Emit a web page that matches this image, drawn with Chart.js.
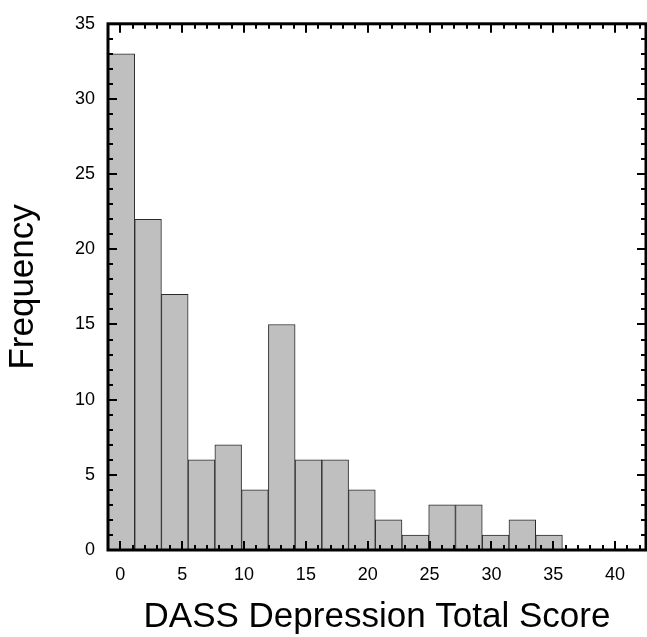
<!DOCTYPE html>
<html>
<head>
<meta charset="utf-8">
<script src="https://cdn.jsdelivr.net/npm/chart.js@4/dist/chart.umd.min.js"></script>
<style>
  html, body { margin: 0; padding: 0; background: #fff; }
  #wrap { width: 647px; height: 637px; }
</style>
</head>
<body>
<div id="wrap"><canvas id="hist"></canvas></div>
<script>
// histogram bins (centres, width ~2.16) and counts
const binCentres = [0.08, 2.24, 4.40, 6.56, 8.72, 10.88, 13.05, 15.21, 17.37,
                    19.53, 21.69, 23.85, 26.01, 28.18, 30.34, 32.50, 34.66];
const counts = [33, 22, 17, 6, 7, 4, 15, 6, 6, 4, 2, 1, 3, 3, 1, 2, 1];
const xTicks = [0, 5, 10, 15, 20, 25, 30, 35, 40];
const yTicks = [0, 5, 10, 15, 20, 25, 30, 35];

const FONT = "'Liberation Sans', Arial, sans-serif";

// inward ticks on all four sides + frame
const framePlugin = {
  id: "frame",
  afterDatasetsDraw(chart) {
    const { ctx, chartArea: a, scales } = chart;
    const x = scales.x, y = scales.y;
    ctx.save();
    ctx.strokeStyle = "#000";
    ctx.lineWidth = 2;
    for (let v = -1; v <= 42; v++) {
      const px = Math.round(x.getPixelForValue(v));
      const len = v % 5 === 0 ? 9 : 5;
      ctx.beginPath();
      ctx.moveTo(px, a.bottom); ctx.lineTo(px, a.bottom - len);
      ctx.moveTo(px, a.top); ctx.lineTo(px, a.top + len);
      ctx.stroke();
    }
    for (let v = 0; v <= 35; v++) {
      const py = Math.round(y.getPixelForValue(v));
      const len = v % 5 === 0 ? 9 : 5;
      ctx.beginPath();
      ctx.moveTo(a.left, py); ctx.lineTo(a.left + len, py);
      ctx.moveTo(a.right, py); ctx.lineTo(a.right - len, py);
      ctx.stroke();
    }
    ctx.lineWidth = 3;
    ctx.strokeRect(a.left, a.top, a.right - a.left, a.bottom - a.top);
    ctx.restore();
  }
};

const histConfig = {
  type: "bar",
  data: {
    datasets: [
      {
        label: "Frequency",
        data: binCentres.map((c, i) => ({ x: c, y: counts[i] })),
        backgroundColor: "#bfbfbf",
        borderColor: "#2a2a2a",
        borderWidth: 1,
        barPercentage: 1,
        categoryPercentage: 1,
      },
    ],
  },
  options: {
    responsive: true,
    maintainAspectRatio: false,
    animation: false,
    layout: { padding: { top: 17, right: 1, left: 0, bottom: 0 } },
    plugins: { legend: { display: false }, tooltip: { enabled: false } },
    scales: {
      x: {
        type: "linear",
        offset: false,
        min: -1,
        max: 42.5,
        afterBuildTicks: (s) => { s.ticks = xTicks.map((v) => ({ value: v })); },
        afterFit: (s) => { s.height = 87; },
        grid: { display: false, drawTicks: false },
        border: { display: false },
        ticks: { color: "#000", padding: 14, font: { family: FONT, size: 18 } },
        title: {
          display: true,
          text: "DASS Depression Total Score",
          color: "#000",
          font: { family: FONT, size: 35, lineHeight: 1.1 },
          padding: 0,
        },
      },
      y: {
        min: 0,
        max: 35,
        afterBuildTicks: (s) => { s.ticks = yTicks.map((v) => ({ value: v })); },
        afterFit: (s) => { s.width = 108; },
        grid: { display: false, drawTicks: false },
        border: { display: false },
        ticks: { color: "#000", padding: 13, font: { family: FONT, size: 18 } },
        title: {
          display: true,
          text: "Frequency",
          color: "#000",
          font: { family: FONT, size: 35 },
          padding: { top: 2 },
        },
      },
    },
  },
  plugins: [framePlugin],
};

const histCtx = document.getElementById("hist");
window.myHist = new Chart(histCtx, histConfig);
</script>
</body>
</html>
